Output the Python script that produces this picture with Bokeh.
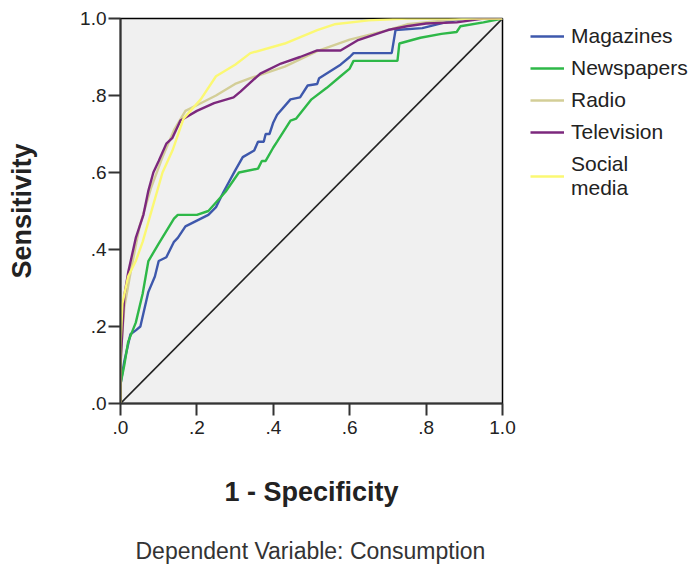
from bokeh.plotting import figure
from bokeh.models import Range1d, Legend, LegendItem, Title, FixedTicker
from bokeh.embed import file_html
from bokeh.resources import INLINE

# ---- data ----
series_names = ["Magazines", "Newspapers", "Radio", "Television", "Social\nmedia"]
series_colors = ["#3E58AC", "#2EB848", "#D3CE97", "#7C287D", "#FBF873"]

magazines_x = [0, 0, 0.01, 0.026, 0.04, 0.052, 0.073, 0.09, 0.10, 0.12, 0.14, 0.15, 0.17,
               0.20, 0.23, 0.25, 0.27, 0.30, 0.32, 0.35, 0.36, 0.375, 0.38, 0.39, 0.40,
               0.41, 0.445, 0.47, 0.49, 0.515, 0.52, 0.576, 0.60, 0.61, 0.65, 0.71, 0.72,
               0.79, 0.85, 0.90, 1.0]
magazines_y = [0, 0.05, 0.11, 0.18, 0.19, 0.20, 0.29, 0.33, 0.37, 0.38, 0.42, 0.43, 0.46,
               0.475, 0.49, 0.51, 0.55, 0.605, 0.64, 0.657, 0.68, 0.68, 0.70, 0.70, 0.73,
               0.75, 0.79, 0.795, 0.826, 0.83, 0.845, 0.88, 0.90, 0.91, 0.91, 0.91, 0.97,
               0.975, 0.99, 1.0, 1.0]

newspapers_x = [0, 0, 0.01, 0.02, 0.04, 0.058, 0.073, 0.10, 0.14, 0.15, 0.175, 0.20, 0.23,
                0.275, 0.31, 0.36, 0.37, 0.38, 0.40, 0.41, 0.445, 0.46, 0.50, 0.54, 0.576,
                0.60, 0.61, 0.65, 0.725, 0.73, 0.785, 0.84, 0.88, 0.89, 0.95, 1.0]
newspapers_y = [0, 0.05, 0.10, 0.16, 0.21, 0.285, 0.37, 0.415, 0.48, 0.49, 0.49, 0.49, 0.50,
                0.55, 0.60, 0.61, 0.63, 0.63, 0.665, 0.68, 0.735, 0.74, 0.79, 0.82, 0.85,
                0.87, 0.89, 0.89, 0.89, 0.935, 0.95, 0.96, 0.965, 0.98, 0.99, 1.0]

radio_x = [0, 0, 0.01, 0.03, 0.05, 0.08, 0.11, 0.14, 0.17, 0.21, 0.25, 0.30, 0.34, 0.43,
           0.515, 0.60, 0.70, 0.75, 0.85, 0.92, 1.0]
radio_y = [0, 0.12, 0.25, 0.36, 0.46, 0.56, 0.64, 0.71, 0.76, 0.78, 0.80, 0.83, 0.845, 0.875,
           0.915, 0.945, 0.97, 0.985, 0.995, 1.0, 1.0]

television_x = [0, 0, 0.01, 0.02, 0.04, 0.06, 0.073, 0.086, 0.10, 0.12, 0.136, 0.157, 0.20,
                0.245, 0.296, 0.314, 0.366, 0.42, 0.47, 0.515, 0.576, 0.62, 0.70, 0.75,
                0.80, 0.88, 0.95, 1.0]
television_y = [0, 0.10, 0.28, 0.34, 0.43, 0.49, 0.553, 0.60, 0.63, 0.675, 0.69, 0.735, 0.76,
                0.78, 0.795, 0.81, 0.857, 0.883, 0.90, 0.917, 0.917, 0.943, 0.97, 0.98,
                0.987, 0.99, 1.0, 1.0]

social_x = [0, 0, 0.005, 0.02, 0.04, 0.058, 0.084, 0.11, 0.136, 0.165, 0.21, 0.25, 0.30,
            0.34, 0.43, 0.515, 0.56, 0.65, 0.75, 1.0]
social_y = [0, 0.15, 0.26, 0.33, 0.37, 0.42, 0.51, 0.60, 0.657, 0.74, 0.79, 0.85, 0.88,
            0.91, 0.935, 0.97, 0.985, 0.995, 1.0, 1.0]

diag_x = [0, 1]
diag_y = [0, 1]

tick_values = [0, 0.2, 0.4, 0.6, 0.8, 1.0]
tick_labels = [".0", ".2", ".4", ".6", ".8", "1.0"]

FONT = "Liberation Sans"

p = figure(frame_width=382, frame_height=385, output_backend="svg", toolbar_location=None,
           x_range=Range1d(0, 1), y_range=Range1d(0, 1),
           min_border_left=120, min_border_right=160, min_border_top=18,
           min_border_bottom=150)

p.background_fill_color = "#F0F0F0"
p.border_fill_color = "white"
p.outline_line_color = "black"
p.outline_line_width = 1.5
p.grid.visible = False

for ax, lab in ((p.xaxis[0], "1 - Specificity"), (p.yaxis[0], "Sensitivity")):
    ax.ticker = FixedTicker(ticks=tick_values)
    ax.major_label_overrides = {v: t for v, t in zip(tick_values, tick_labels)}
    ax.axis_label = lab
    ax.axis_label_text_font = FONT
    ax.axis_label_text_font_style = "bold"
    ax.axis_label_text_font_size = "27px"
    ax.axis_label_text_color = "#222222"
    ax.major_label_text_font = FONT
    ax.major_label_text_font_size = "19px"
    ax.major_label_text_color = "#222222"
    ax.axis_line_color = "#333333"
    ax.axis_line_width = 2
    ax.major_tick_line_color = "#333333"
    ax.major_tick_line_width = 2
    ax.major_tick_out = 12
    ax.major_tick_in = 0
    ax.minor_tick_line_color = None

p.xaxis[0].major_label_standoff = 5
p.xaxis[0].axis_label_standoff = 40
p.yaxis[0].major_label_standoff = 2
p.yaxis[0].axis_label_standoff = 40
p.yaxis[0].major_label_orientation = "horizontal"

xs = [magazines_x, newspapers_x, radio_x, television_x, social_x]
ys = [magazines_y, newspapers_y, radio_y, television_y, social_y]

p.line(diag_x, diag_y, line_color="#222222", line_width=1.6)

items = []
for name, color, x, y in zip(series_names, series_colors, xs, ys):
    r = p.line(x, y, line_color=color, line_width=2.4)
    items.append(LegendItem(label=name, renderers=[r]))

legend = Legend(items=items, location=(28, 203), border_line_color=None,
                background_fill_alpha=0, padding=0, margin=0, spacing=8,
                glyph_width=34, glyph_height=20, label_standoff=7,
                label_text_font=FONT, label_text_font_size="21px",
                label_text_color="#222222", label_height=24)
p.add_layout(legend, "right")

title = Title(text="Dependent Variable: Consumption", text_font=FONT,
              text_font_size="23px", text_font_style="normal",
              text_color="#333333", align="left", offset=15, standoff=53)
p.add_layout(title, "below")

open("out.html", "w").write(file_html(p, INLINE))
